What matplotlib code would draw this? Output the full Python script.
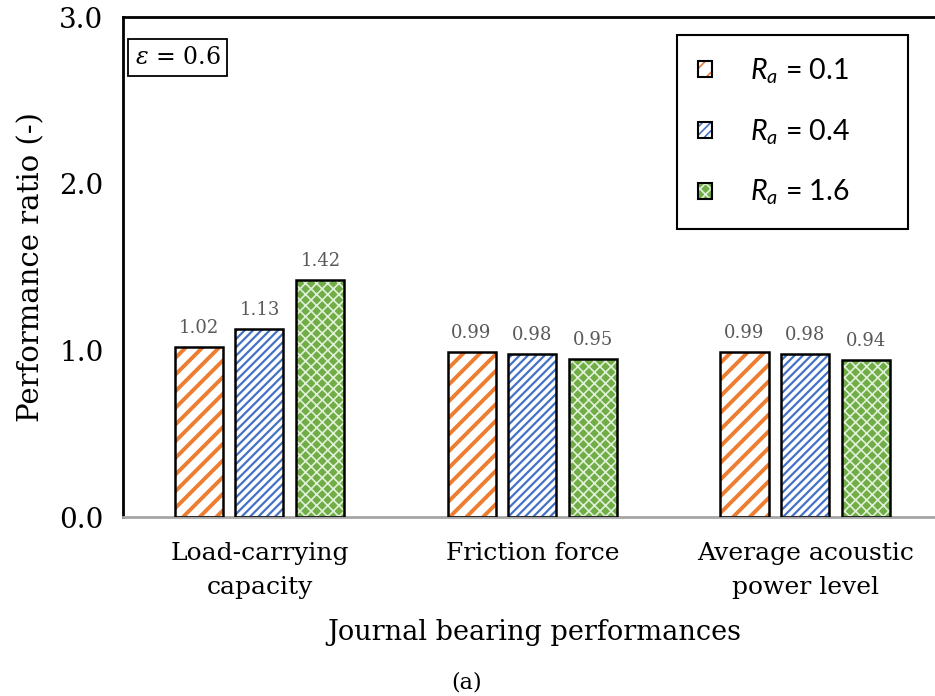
import numpy as np
import matplotlib.pyplot as plt

plt.rcParams['font.family'] = ['DejaVu Serif']
plt.rcParams['mathtext.fontset'] = 'custom'
plt.rcParams['mathtext.it'] = 'DejaVu Serif:italic'
plt.rcParams['mathtext.rm'] = 'DejaVu Serif'
plt.rcParams['mathtext.sf'] = 'Lato:italic'

categories = ['Load-carrying\ncapacity', 'Friction force', 'Average acoustic\npower level']
series_labels = [r'$\mathsf{R_a}$ = 0.1', r'$\mathsf{R_a}$ = 0.4', r'$\mathsf{R_a}$ = 1.6']
ra_01 = [1.02, 0.99, 0.99]
ra_04 = [1.13, 0.98, 0.98]
ra_16 = [1.42, 0.95, 0.94]
series = [ra_01, ra_04, ra_16]

# hatch styles per series: (face, hatch colour, hatch, hatch linewidth)
styles = [
    ('white', '#ED7D31', '//', 2.8),
    ('white', '#4472C4', '////', 1.6),
    ('#70AD47', '#E2F0D9', 'xxx', 1.2),
]

fig = plt.figure(figsize=(9.35, 6.96), dpi=100)
ax = fig.add_axes([123 / 935, 1 - 517 / 696, 1 - 123 / 935, 500 / 696])

x = np.arange(len(categories))
width = 0.176
offset = 0.223

for i, vals in enumerate(series):
    face, hcol, hatch, hlw = styles[i]
    pos = x + (i - 1) * offset
    plt.rcParams['hatch.linewidth'] = hlw
    ax.bar(pos, vals, width, color=face, edgecolor=hcol, hatch=hatch, linewidth=0, zorder=2)
    ax.bar(pos, vals, width, fill=False, edgecolor='black', linewidth=1.8, zorder=3)
    for p, v in zip(pos, vals):
        ax.text(p, v + 0.06, f'{v:.2f}', ha='center', va='bottom', fontsize=13, color='#595959')

ax.set_ylim(0, 3.0)
ax.set_xlim(-0.5, 2.475)
ax.set_yticks([0, 1, 2, 3])
ax.set_yticklabels(['0.0', '1.0', '2.0', '3.0'], fontsize=20)
ax.set_xticks(x)
ax.set_xticklabels(categories, fontsize=18, linespacing=1.6)
ax.tick_params(axis='x', length=0, pad=18)
ax.tick_params(axis='y', length=0, pad=14)

ax.spines['right'].set_visible(False)
ax.spines['left'].set_linewidth(2)
ax.spines['top'].set_linewidth(2)
ax.spines['bottom'].set_color('#a6a6a6')
ax.spines['bottom'].set_linewidth(2)

ax.set_ylabel('Performance ratio (-)', fontsize=21)
ax.yaxis.set_label_coords(-0.096, 0.5)
ax.set_xlabel('Journal bearing performances', fontsize=19.5)
ax.xaxis.set_label_coords(0.507, -0.205)
fig.text(467 / 935, 1 - 682 / 696, '(a)', ha='center', va='center', fontsize=16)

ax.text(0.0145, 0.919, r'$\varepsilon$ = 0.6', transform=ax.transAxes, fontsize=17,
        ha='left', va='center',
        bbox=dict(boxstyle='square,pad=0.3', facecolor='white', edgecolor='black', linewidth=1.3))

handles = []
for i in range(3):
    face, hcol, hatch, hlw = styles[i]
    fill = plt.Rectangle((0, 0), 1, 1, facecolor=face, edgecolor=hcol, hatch=hatch, linewidth=0)
    edge = plt.Rectangle((0, 0), 1, 1, fill=False, edgecolor='black', linewidth=1.5)
    handles.append((fill, edge))
leg = ax.legend(handles, series_labels, loc='upper left', bbox_to_anchor=(0.682, 0.0, 0.2845, 0.964),
                mode='expand', prop={'family': 'Lato', 'size': 20.5}, frameon=True, fancybox=False,
                edgecolor='black', handlelength=0.5, handleheight=0.5, labelspacing=1.1,
                borderpad=0.75, handletextpad=1.33, borderaxespad=0, framealpha=1)
leg.get_frame().set_linewidth(1.5)

fig.savefig('out.png', dpi=100)
